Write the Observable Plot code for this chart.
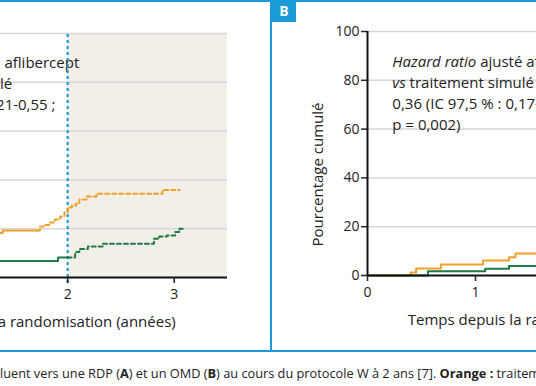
<!DOCTYPE html>
<html><head><meta charset="utf-8">
<script src="https://cdn.jsdelivr.net/npm/d3@7"></script>
<script src="https://cdn.jsdelivr.net/npm/@observablehq/plot@0.6"></script>
<style>
body{margin:0;background:#fff;}
#root{position:relative;width:536px;height:386px;overflow:hidden;font-family:"Open Sans",sans-serif;color:#222;background:#fff;}
.abs{position:absolute;}
</style></head><body><div id="root"></div>
<script>
// ---- data ----
const xTicks = [0, 1, 2, 3];
const yTicks = [0, 20, 40, 60, 80, 100];
const gridTicks = [20, 40, 60, 80, 100];
const xLabel = "Temps depuis la randomisation (années)";
const yLabel = "Pourcentage cumulé";

// Panel A (RDP)
const aOrangeSolidT = [1.2, 1.39, 1.71];
const aOrangeSolidP = [18.2, 19.3, 19.3];
const aOrangeDashT = [1.71, 1.74, 1.79, 1.83, 1.88, 1.93, 1.97, 2.00, 2.04, 2.08, 2.11, 2.18, 2.27, 2.89, 3.05];
const aOrangeDashP = [19.3, 20.9, 21.5, 22.5, 23.8, 25.0, 26.6, 28.7, 29.5, 30.3, 32.0, 33.2, 34.3, 35.9, 35.9];
const aGreenSolidT = [1.2, 1.91, 2.00];
const aGreenSolidP = [6.8, 8.2, 8.2];
const aGreenDashT = [2.00, 2.07, 2.11, 2.19, 2.33, 2.81, 2.86, 2.93, 3.01, 3.05, 3.08];
const aGreenDashP = [8.2, 10.4, 11.7, 12.7, 13.8, 15.9, 16.8, 17.2, 18.6, 20.0, 20.0];
const aText = ["Hazard ratio ajusté aflibercept", "vs traitement simulé", "0,34 (IC 97,5 % : 0,21-0,55 ;", "p < 0,001)"];

// Panel B (OMD)
const bOrangeT = [0, 0.40, 0.45, 0.68, 1.07, 1.31, 1.37, 1.6];
const bOrangeP = [0, 1.2, 2.9, 4.5, 6.1, 7.5, 9.0, 9.0];
const bGreenT = [0, 0.56, 1.09, 1.31, 1.6];
const bGreenP = [0, 1.7, 2.8, 3.9, 3.9];
const bText = ["Hazard ratio ajusté aflibercept", "vs traitement simulé", "0,36 (IC 97,5 % : 0,17-0,77 ;", "p = 0,002)"];

const caption = 'luent vers une RDP (<b>A</b>) et un OMD (<b>B</b>) au cours du protocole W à 2 ans [7]. <b>Orange :</b> traitement simulé ; <b>vert :</b> aflibercept.';

// ---- style ----
const ORANGE = "#f2a02a", GREEN = "#1f7a45", BLUE = "#1a9ad6";
const FONT = "'Open Sans', sans-serif";
const zip = (T, P) => T.map((t, i) => ({t, p: P[i]}));

function panel(o) {
  const marks = [];
  if (o.shade) marks.push(Plot.rect([0], {x1: 2, x2: 3.5, y1: 0, y2: 100, fill: "#f2eee8"}));
  marks.push(Plot.gridY(gridTicks, {stroke: "#d6d6d6", strokeOpacity: 1, strokeWidth: 1.5}));
  marks.push(Plot.text([o.text.join("\n")], {text: d => d, x: o.tx, y: o.ty, textAnchor: "start", lineAnchor: "top", lineHeight: 1.4, fontSize: 15, fill: "#222"}));
  if (o.shade) marks.push(Plot.ruleX([2], {y1: -2.5, y2: 100, stroke: BLUE, strokeWidth: 2.2, strokeDasharray: "3,3"}));
  for (const s of o.series) {
    marks.push(Plot.line(s.data, {x: "t", y: "p", curve: "step-after", stroke: s.color, strokeWidth: 2, strokeDasharray: s.dash ? "4,3" : null}));
  }
  marks.push(Plot.ruleY([0], {x1: 0, x2: 3.5, stroke: "#111", strokeWidth: 2}));
  marks.push(Plot.ruleX([0], {y1: 0, y2: 100, stroke: "#111", strokeWidth: 2}));
  marks.push(Plot.axisX(xTicks, {tickSize: 6, tickPadding: 6, tickFormat: d => String(d), label: null, strokeWidth: 1.5, fontSize: 14}));
  marks.push(Plot.axisY(yTicks, {tickSize: 6, tickPadding: 2, tickFormat: d => String(d), label: null, strokeWidth: 1.5, fontSize: 14}));
  marks.push(Plot.text([xLabel], {text: d => d, frameAnchor: "bottom", lineAnchor: "middle", textAnchor: "middle", dx: -7, dy: 45, fontSize: 15, fill: "#222"}));
  marks.push(Plot.text([yLabel], {text: d => d, frameAnchor: "left", textAnchor: "middle", lineAnchor: "middle", rotate: -90, dx: -49, dy: 21, fontSize: 15, fill: "#222"}));
  const svg = Plot.plot({
    width: o.width, height: o.height,
    marginTop: o.mt, marginBottom: o.mb, marginLeft: 60, marginRight: 10,
    x: {domain: [0, 3.5]}, y: {domain: [0, 100]},
    style: {fontFamily: FONT, fontSize: "14px", color: "#222", background: "transparent", overflow: "visible"},
    marks
  });
  // italic words
  d3.select(svg).selectAll("text tspan").each(function () {
    const sp = d3.select(this);
    const s = sp.text();
    if (s.startsWith("Hazard ratio")) {
      sp.text("");
      sp.append("tspan").attr("font-style", "italic").text("Hazard ratio");
      sp.append("tspan").text(s.slice(12));
    } else if (s.startsWith("vs ")) {
      sp.text("");
      sp.append("tspan").attr("font-style", "italic").text("vs");
      sp.append("tspan").text(s.slice(2));
    }
  });
  svg.style.position = "absolute";
  svg.style.left = o.left + "px";
  svg.style.top = "0px";
  return svg;
}

const root = document.getElementById("root");

root.appendChild(panel({
  left: -206, width: 443, height: 337, mt: 33, mb: 60, shade: true,
  tx: 0.15, ty: 92, text: aText,
  series: [
    {data: zip(aOrangeSolidT, aOrangeSolidP), color: ORANGE},
    {data: zip(aOrangeDashT, aOrangeDashP), color: ORANGE, dash: true},
    {data: zip(aGreenSolidT, aGreenSolidP), color: GREEN},
    {data: zip(aGreenDashT, aGreenDashP), color: GREEN, dash: true}
  ]
}));

root.appendChild(panel({
  left: 307, width: 448, height: 335, mt: 31, mb: 60, shade: false,
  tx: 0.23, ty: 91.5, text: bText,
  series: [
    {data: zip(bOrangeT, bOrangeP), color: ORANGE},
    {data: zip(bGreenT, bGreenP), color: GREEN}
  ]
}));

// frame lines
function box(l, t, w, h, bg) {
  const d = document.createElement("div");
  d.className = "abs";
  Object.assign(d.style, {left: l + "px", top: t + "px", width: w + "px", height: h + "px", background: bg});
  root.appendChild(d);
  return d;
}
box(0, 0, 536, 2, BLUE);
box(270, 0, 2, 352, BLUE);
box(0, 350, 536, 2, BLUE);
const bBox = box(272, 0, 24, 22, BLUE);
Object.assign(bBox.style, {color: "#fff", fontWeight: "bold", fontSize: "14px", lineHeight: "22px", textAlign: "center"});
bBox.textContent = "B";

const cap = document.createElement("div");
cap.className = "abs";
Object.assign(cap.style, {left: "0px", top: "364px", fontSize: "12.75px", whiteSpace: "nowrap", lineHeight: "18px", color: "#222"});
cap.innerHTML = caption;
root.appendChild(cap);
</script></body></html>
